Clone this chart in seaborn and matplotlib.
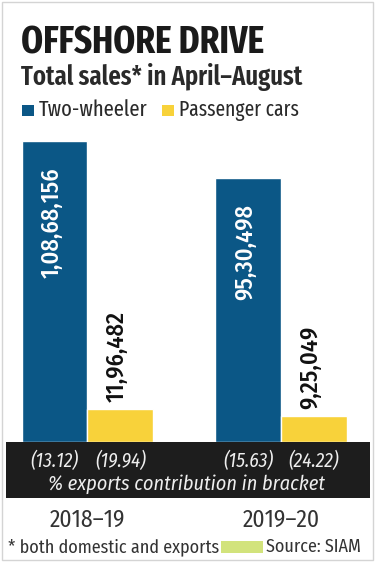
import matplotlib
matplotlib.use("Agg")
import matplotlib.pyplot as plt
import matplotlib.transforms as mtransforms
from matplotlib.patches import Rectangle
import seaborn as sns
import pandas as pd

# ---- data ----
years = ["2018-19", "2019-20"]
year_labels = ["2018–19", "2019–20"]
series = ["Two-wheeler", "Passenger cars"]
two_wheeler = [10868156, 9530498]
passenger_cars = [1196482, 925049]
two_wheeler_txt = ["1,08,68,156", "95,30,498"]
passenger_txt = ["11,96,482", "9,25,049"]
two_wheeler_exp = ["(13.12)", "(15.63)"]
passenger_exp = ["(19.94)", "(24.22)"]

BLUE = "#0b5786"
YELLOW = "#f8d23a"
BAND = "#1d1d1d"

sns.set_theme(style="white")
FONT = ["Fira Sans Condensed", "DejaVu Sans"]
XCOND = ["Fira Sans Extra Condensed", "Fira Sans Condensed", "DejaVu Sans"]
plt.rcParams["font.family"] = FONT

W, H = 376, 563
fig = plt.figure(figsize=(W / 100, H / 100), dpi=100)
fig.patch.set_facecolor("white")

def fx(x):
    return x / W

def fy(y):
    return 1 - y / H

df = pd.DataFrame({
    "year": years * 2,
    "type": [series[0]] * 2 + [series[1]] * 2,
    "sales": two_wheeler + passenger_cars,
})

ax = fig.add_axes([fx(6), fy(442), fx(370) - fx(6), fy(130) - fy(442)])
sns.barplot(data=df, x="year", y="sales", hue="type", hue_order=series,
            order=years, palette=[BLUE, YELLOW], width=0.68, gap=0,
            saturation=1, legend=False, ax=ax)
ax.set_xlim(-0.421, 1.460)
ax.set_ylim(0, 10868156 * 312 / 301)
ax.axis("off")

# value labels
for patch, txt in zip(ax.containers[0], two_wheeler_txt):
    xc = patch.get_x() + patch.get_width() / 2
    ax.annotate(txt, (xc, patch.get_height()), xytext=(-3, -26),
                textcoords="offset pixels", rotation=90, ha="center", va="top",
                color="white", fontsize=17.5, fontweight="medium")
for patch, txt in zip(ax.containers[1], passenger_txt):
    xc = patch.get_x() + patch.get_width() / 2
    ax.annotate(txt, (xc, patch.get_height()), xytext=(-3, 7),
                textcoords="offset pixels", rotation=90, ha="center", va="bottom",
                color="#111111", fontsize=17.5, fontweight="medium")

# black band
fig.add_artist(Rectangle((fx(6), fy(498)), fx(370) - fx(6), fy(442) - fy(498),
                         transform=fig.transFigure, facecolor=BAND,
                         edgecolor="none", zorder=3))
blend = mtransforms.blended_transform_factory(ax.transData, fig.transFigure)
for patch, txt in zip(ax.containers[0], two_wheeler_exp):
    xc = patch.get_x() + patch.get_width() / 2
    fig.text(xc, fy(467), txt, transform=blend, ha="center", va="baseline",
             color="#eeeeee", fontsize=14, style="italic", zorder=4)
for patch, txt in zip(ax.containers[1], passenger_exp):
    xc = patch.get_x() + patch.get_width() / 2
    fig.text(xc, fy(467), txt, transform=blend, ha="center", va="baseline",
             color="#eeeeee", fontsize=14, style="italic", zorder=4)
fig.text(fx(186), fy(490), "% exports contribution in bracket", ha="center",
         va="baseline", color="#eeeeee", fontsize=14.6, style="italic", zorder=4)

# category labels
for i, lab in enumerate(year_labels):
    fig.text(i, fy(527), lab, transform=blend, ha="center", va="baseline",
             color="#333333", fontsize=17)

# title, subtitle, legend
fig.text(fx(21), fy(53), "OFFSHORE DRIVE", family=XCOND, fontweight="bold",
         fontsize=27.5, color="#1a1a1a", va="baseline", ha="left")
fig.text(fx(21), fy(85), "Total sales* in April–August", family=XCOND,
         fontweight="semibold", fontsize=19.3, color="#2a2a2a", va="baseline", ha="left")
fig.add_artist(Rectangle((fx(22), fy(116)), fx(12), 11 / H, transform=fig.transFigure,
                         facecolor=BLUE, edgecolor="none"))
fig.text(fx(39), fy(116), series[0], family=XCOND, fontsize=16, color="#2a2a2a",
         va="baseline")
fig.add_artist(Rectangle((fx(162), fy(116)), fx(12), 11 / H, transform=fig.transFigure,
                         facecolor=YELLOW, edgecolor="none"))
fig.text(fx(179), fy(116), series[1], family=XCOND, fontsize=15.3, color="#2a2a2a",
         va="baseline")

# footer
fig.text(fx(8), fy(552), "* both domestic and exports", fontsize=13,
         color="#333333", va="baseline")
fig.add_artist(Rectangle((fx(221), fy(553)), fx(42), 12 / H, transform=fig.transFigure,
                         facecolor="#d2e37c", edgecolor="none"))
fig.text(fx(361), fy(552), "Source: SIAM", fontsize=13, color="#333333",
         va="baseline", ha="right")

# outer frame
fig.add_artist(Rectangle((fx(2), fy(560)), fx(371), 558 / H, transform=fig.transFigure,
                         facecolor="none", edgecolor="#d4d4d4", lw=1))

fig.savefig("out.png", dpi=100)
